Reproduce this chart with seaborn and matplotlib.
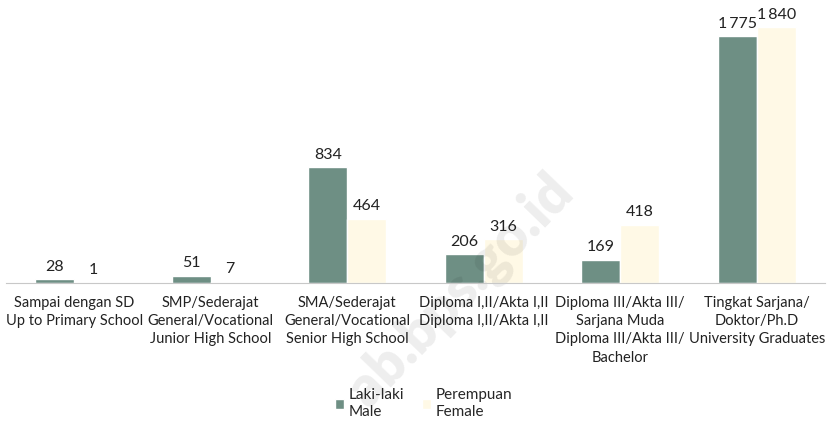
import matplotlib
matplotlib.use("Agg")
import matplotlib.pyplot as plt
import seaborn as sns
import pandas as pd
import numpy as np

# data
categories = [
    "Sampai dengan SD\nUp to Primary School",
    "SMP/Sederajat\nGeneral/Vocational\nJunior High School",
    "SMA/Sederajat\nGeneral/Vocational\nSenior High School",
    "Diploma I,II/Akta I,II\nDiploma I,II/Akta I,II",
    "Diploma III/Akta III/\nSarjana Muda\nDiploma III/Akta III/\nBachelor",
    "Tingkat Sarjana/\nDoktor/Ph.D\nUniversity Graduates",
]
male = [28, 51, 834, 206, 169, 1775]
female = [1, 7, 464, 316, 418, 1840]
series = ["Laki-laki\nMale", "Perempuan\nFemale"]
colors = ["#6E8F84", "#FFF9E6"]

df = pd.DataFrame({
    "cat": categories * 2,
    "val": male + female,
    "sex": [series[0]] * 6 + [series[1]] * 6,
})

sns.set_style("white")
plt.rcParams["font.family"] = ["Lato", "DejaVu Sans"]

fig = plt.figure(figsize=(8.28, 4.22), dpi=100)
ax = fig.add_axes([6 / 828, 139 / 422, 819 / 828, 278 / 422])
ax.set_facecolor("none")

sns.barplot(data=df, x="cat", y="val", hue="sex", palette=colors,
            width=0.57, saturation=1, ax=ax, legend=True)

ax.set_ylim(0, 2000)
ax.set_xlim(-0.5, 5.5)
ax.set_yticks([])
ax.set_xlabel("")
ax.set_ylabel("")
for s in ["top", "right", "left"]:
    ax.spines[s].set_visible(False)
ax.spines["bottom"].set_color("#C8C8C8")
ax.tick_params(axis="x", which="major", length=0, labelsize=10.5, pad=9,
               colors="#222222")
ax.set_xticks(np.arange(-0.5, 6, 1), minor=True)
ax.tick_params(axis="x", which="minor", length=5, color="#C8C8C8")
for lbl in ax.get_xticklabels():
    lbl.set_linespacing(1.4)

def fmt(v):
    return f"{v:,}".replace(",", "\u2009")

for cont in ax.containers:
    labels = [fmt(int(b.get_height())) for b in cont]
    ax.bar_label(cont, labels=labels, padding=4, fontsize=11.5, color="#222222",
                 zorder=4)

leg = ax.legend(loc="upper center", bbox_to_anchor=(0.51, -0.33), ncol=2,
                frameon=False, fontsize=11, handlelength=0.6, handleheight=0.6,
                columnspacing=1.2, handletextpad=0.3)
for t in leg.get_texts():
    t.set_linespacing(1.2)

# faint watermark
ax.text(0.557, 0.31, "ab.bps.go.id", rotation=46, fontsize=40, color="black",
        alpha=0.07, ha="center", va="center", fontweight="heavy", zorder=2,
        transform=fig.transFigure, clip_on=False)

fig.savefig("out.png", dpi=100)
